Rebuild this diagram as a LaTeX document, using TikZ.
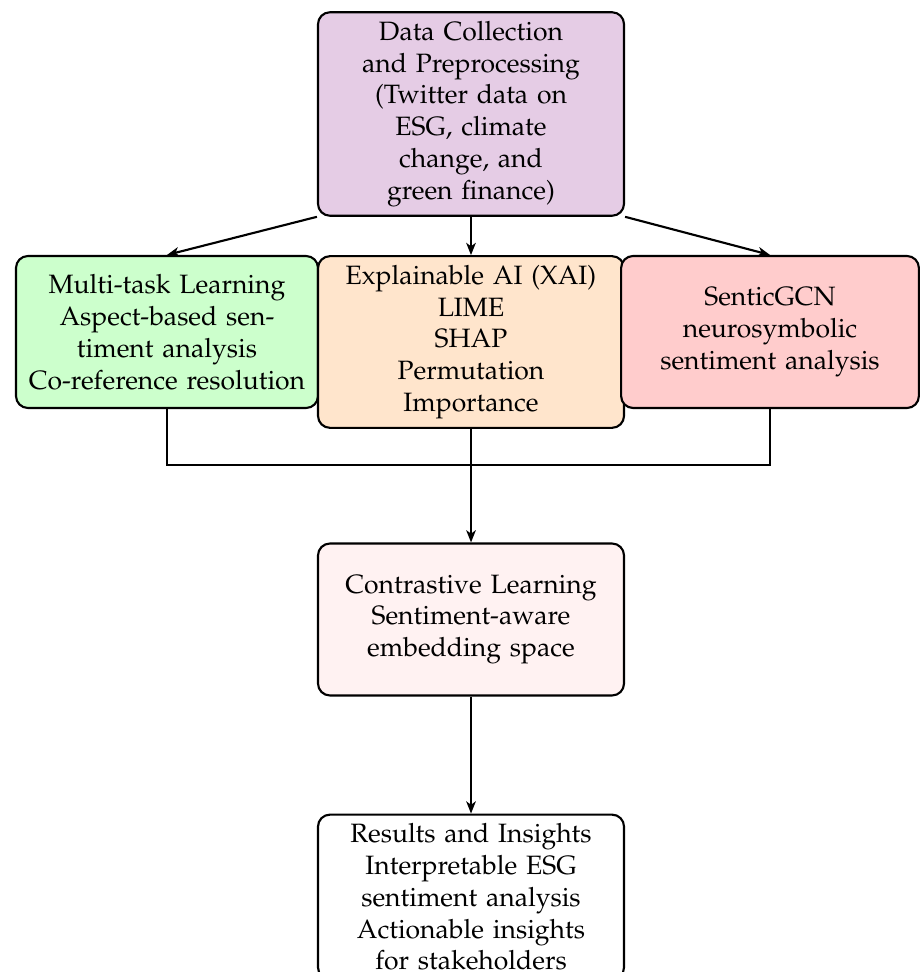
\documentclass[tikz,border=0pt]{standalone}
\usepackage[T1]{fontenc}
\usepackage{mathpazo}
\usetikzlibrary{arrows.meta}
\begin{document}
\begin{tikzpicture}[x=0.377pt,y=-0.377pt,
  box/.style={draw, thick, rounded corners=4.5pt, align=center, text width=#1, minimum height=57.3pt, inner sep=3.33pt},
  conn/.style={thick},
  arr/.style={thick,-{Stealth[length=4.6pt,width=3.6pt,inset=1.3pt]}}]
\useasboundingbox (0,0) rectangle (920,972);
\node[box=108.7pt, fill=violet!20] (data) at (471,114) {Data Collection\\and Preprocessing\\(Twitter data on\\ESG, climate\\change, and\\green finance)};
\node[box=107.2pt, fill=green!20] (green) at (167,332) {Multi-task Learning\\Aspect-based sen-\\timent analysis\\Co-reference resolution};
\node[box=108.7pt, fill=orange!20] (xai) at (471,342) {Explainable AI (XAI)\\LIME\\SHAP\\Permutation\\Importance};
\node[box=105.6pt, fill=red!20] (red) at (770,332) {SenticGCN\\neurosymbolic\\sentiment analysis};
\node[box=108.7pt, fill=red!5] (contr) at (471,619.5) {Contrastive Learning\\Sentiment-aware\\embedding space};
\node[box=108.7pt, fill=white] (res) at (471,897) {Results and Insights\\Interpretable ESG\\sentiment analysis\\Actionable insights\\for stakeholders};
\coordinate (junc) at (471,465);
\draw[arr] (data.south west) -- (green.north);
\draw[arr] (data.south) -- (xai.north);
\draw[arr] (data.south east) -- (red.north);
\draw[conn] (green.south) |- (junc) -| (red.south);
\draw[arr] (xai.south) -- (contr.north);
\draw[arr] (contr.south) -- (res.north);
\end{tikzpicture}
\end{document}
